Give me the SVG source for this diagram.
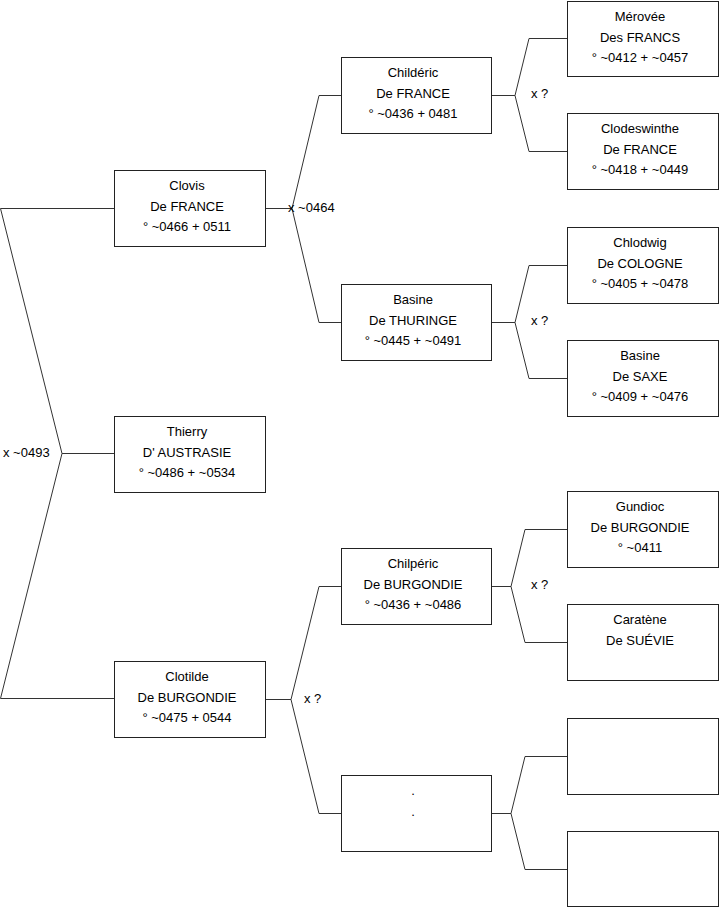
<svg xmlns="http://www.w3.org/2000/svg" width="719" height="908" viewBox="0 0 719 908">
<style>
.b{fill:#fff;stroke:#222;stroke-width:1}
.c{fill:none;stroke:#333;stroke-width:1}
text{font-family:"Liberation Sans",Arial,sans-serif;font-size:13px;fill:#000}
.m{text-anchor:middle}
</style>
<rect width="719" height="908" fill="#fff"/>
<g id="connectors">
<path class="c" d="M0.5 208.5H114M0.5 208.5L62 453.5L0.5 698.5H114M62 453.5H114"/>
<path class="c" d="M265 208.5H292M341 95.5H319L292 208.5L319 322.5H341"/>
<path class="c" d="M491 95.5H515M567 38.5H529L515 95.5L529 151.5H567"/>
<path class="c" d="M491 322.5H515M567 265.5H529L515 322.5L529 378.5H567"/>
<path class="c" d="M265 699.5H291M341 586.5H319L291 699.5L319 813.5H341"/>
<path class="c" d="M491 586.5H511M567 529.5H525L511 586.5L525 642.5H567"/>
<path class="c" d="M491 813.5H511M567 756.5H525L511 813.5L525 869.5H567"/>
<text x="3" y="456.5">x ~0493</text>
<text x="288" y="211.5">x ~0464</text>
<text x="531" y="97.5">x ?</text>
<text x="531" y="324.5">x ?</text>
<text x="531" y="588.5">x ?</text>
<text x="304" y="702.5">x ?</text>
</g>
<g id="clovis"><rect class="b" x="114.5" y="170.5" width="151" height="76"/>
<text class="m" x="187" y="190">Clovis</text><text class="m" x="187" y="210.5">De FRANCE</text><text class="m" x="187" y="230.5">° ~0466 + 0511</text></g>
<g id="thierry"><rect class="b" x="114.5" y="416.5" width="151" height="76"/>
<text class="m" x="187" y="436">Thierry</text><text class="m" x="187" y="456.5">D' AUSTRASIE</text><text class="m" x="187" y="476.5">° ~0486 + ~0534</text></g>
<g id="clotilde"><rect class="b" x="114.5" y="661.5" width="151" height="76"/>
<text class="m" x="187" y="681">Clotilde</text><text class="m" x="187" y="701.5">De BURGONDIE</text><text class="m" x="187" y="721.5">° ~0475 + 0544</text></g>
<g id="childeric"><rect class="b" x="341.5" y="57.5" width="150" height="76"/>
<text class="m" x="413" y="77">Childéric</text><text class="m" x="413" y="97.5">De FRANCE</text><text class="m" x="413" y="117.5">° ~0436 + 0481</text></g>
<g id="basine-thuringe"><rect class="b" x="341.5" y="284.5" width="150" height="76"/>
<text class="m" x="413" y="304">Basine</text><text class="m" x="413" y="324.5">De THURINGE</text><text class="m" x="413" y="344.5">° ~0445 + ~0491</text></g>
<g id="chilperic"><rect class="b" x="341.5" y="548.5" width="150" height="76"/>
<text class="m" x="413" y="568">Chilpéric</text><text class="m" x="413" y="588.5">De BURGONDIE</text><text class="m" x="413" y="608.5">° ~0436 + ~0486</text></g>
<g id="blank1"><rect class="b" x="341.5" y="775.5" width="150" height="76"/>
<text class="m" x="413" y="795">.</text><text class="m" x="413" y="815.5">.</text></g>
<g id="merovee"><rect class="b" x="567.5" y="1.5" width="151" height="75"/>
<text class="m" x="640" y="21">Mérovée</text><text class="m" x="640" y="41.5">Des FRANCS</text><text class="m" x="640" y="61.5">° ~0412 + ~0457</text></g>
<g id="clodeswinthe"><rect class="b" x="567.5" y="113.5" width="151" height="76"/>
<text class="m" x="640" y="133">Clodeswinthe</text><text class="m" x="640" y="153.5">De FRANCE</text><text class="m" x="640" y="173.5">° ~0418 + ~0449</text></g>
<g id="chlodwig"><rect class="b" x="567.5" y="227.5" width="151" height="76"/>
<text class="m" x="640" y="247">Chlodwig</text><text class="m" x="640" y="267.5">De COLOGNE</text><text class="m" x="640" y="287.5">° ~0405 + ~0478</text></g>
<g id="basine-saxe"><rect class="b" x="567.5" y="340.5" width="151" height="76"/>
<text class="m" x="640" y="360">Basine</text><text class="m" x="640" y="380.5">De SAXE</text><text class="m" x="640" y="400.5">° ~0409 + ~0476</text></g>
<g id="gundioc"><rect class="b" x="567.5" y="491.5" width="151" height="76"/>
<text class="m" x="640" y="511">Gundioc</text><text class="m" x="640" y="531.5">De BURGONDIE</text><text class="m" x="640" y="551.5">° ~0411</text></g>
<g id="caratene"><rect class="b" x="567.5" y="604.5" width="151" height="76"/>
<text class="m" x="640" y="624">Caratène</text><text class="m" x="640" y="644.5">De SUÉVIE</text></g>
<g id="blank2"><rect class="b" x="567.5" y="718.5" width="151" height="76"/></g>
<g id="blank3"><rect class="b" x="567.5" y="831.5" width="151" height="75"/></g>
</svg>
